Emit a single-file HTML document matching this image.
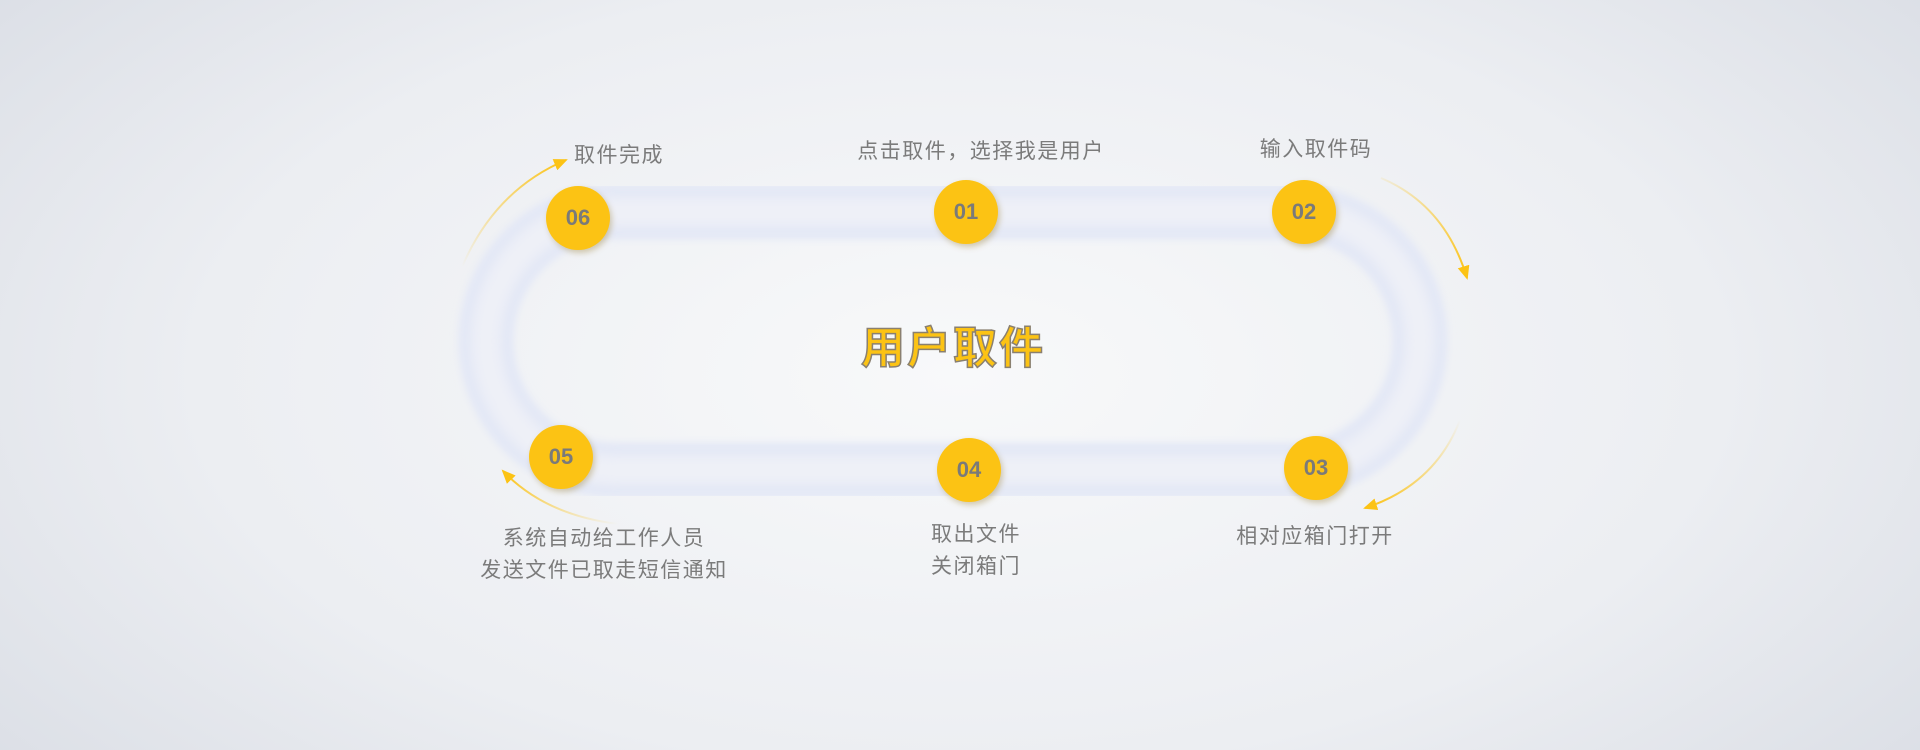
<!DOCTYPE html>
<html><head><meta charset="utf-8"><style>
html,body{margin:0;padding:0}
body{width:1920px;height:750px;overflow:hidden;position:relative;
background:radial-gradient(ellipse 72% 95% at 50% 50%,#f8f9fa 0%,#eceef2 55%,#d6dae2 100%);
font-family:"Liberation Sans","Noto Sans CJK SC",sans-serif;}
.c{position:absolute;width:64px;height:64px;border-radius:50%;background:#fcc314;box-shadow:2px 3px 6px rgba(150,120,40,.35);
color:#7a7a7a;font-weight:bold;font-size:22px;line-height:64px;text-align:center;margin:-32px 0 0 -32px}
.t{position:absolute;color:#7b7b7b;font-size:21px;letter-spacing:1.5px;transform:translate(-50%,-50%);text-align:center;line-height:32px;white-space:nowrap}
.title{position:absolute;left:953px;top:344px;transform:translate(-50%,-50%);font-size:44px;font-weight:bold;color:#fcc314;
-webkit-text-stroke:1.5px #8a8070;letter-spacing:2px;white-space:nowrap}
</style></head><body>
<svg width="1920" height="750" style="position:absolute;left:0;top:0">
<defs>
<filter id="b" x="-10%" y="-10%" width="120%" height="120%"><feGaussianBlur stdDeviation="4"/></filter>
<filter id="b2" x="-10%" y="-10%" width="120%" height="120%"><feGaussianBlur stdDeviation="6"/></filter>
<marker id="ah" markerWidth="8" markerHeight="8" refX="6" refY="4" orient="auto"><path d="M0,1 L7,4 L0,7z" fill="#fcc314"/></marker>
<linearGradient id="g1" x1="0" y1="1" x2="1" y2="0"><stop offset="0" stop-color="#fcc314" stop-opacity="0"/><stop offset="1" stop-color="#fcc314"/></linearGradient>
<linearGradient id="g2" x1="1" y1="0" x2="0" y2="1"><stop offset="0" stop-color="#fcc314" stop-opacity="0"/><stop offset="1" stop-color="#fcc314"/></linearGradient>
<linearGradient id="g3" x1="0" y1="0" x2="1" y2="1"><stop offset="0" stop-color="#fcc314" stop-opacity="0.1"/><stop offset="1" stop-color="#fcc314"/></linearGradient>
<linearGradient id="g4" x1="1" y1="1" x2="0" y2="0"><stop offset="0" stop-color="#fcc314" stop-opacity="0"/><stop offset="1" stop-color="#fcc314"/></linearGradient>
</defs>
<path d="M615,212 H1291 A129,129 0 0 1 1291,470 H615 A129,129 0 0 1 615,212 Z" fill="none" stroke="#e2e7f6" stroke-width="54" filter="url(#b)"/>
<path d="M615,212 H1291 A129,129 0 0 1 1291,470 H615 A129,129 0 0 1 615,212 Z" fill="none" stroke="#eef0f7" stroke-width="30" filter="url(#b2)"/>
<path d="M462,267 Q495,190 566,160" fill="none" stroke="url(#g1)" stroke-width="2" marker-end="url(#ah)"/>
<path d="M1381,178 Q1445,205 1467,278" fill="none" stroke="url(#g3)" stroke-width="2" marker-end="url(#ah)"/>
<path d="M1460,420 Q1435,485 1365,508" fill="none" stroke="url(#g2)" stroke-width="2" marker-end="url(#ah)"/>
<path d="M618,524 Q545,515 503,471" fill="none" stroke="url(#g4)" stroke-width="2" marker-end="url(#ah)"/>
</svg>
<div class="c" style="left:578px;top:218px">06</div>
<div class="c" style="left:966px;top:212px">01</div>
<div class="c" style="left:1304px;top:212px">02</div>
<div class="c" style="left:1316px;top:468px">03</div>
<div class="c" style="left:969px;top:470px">04</div>
<div class="c" style="left:561px;top:457px">05</div>
<div class="t" style="left:619px;top:156px">取件完成</div>
<div class="t" style="left:981px;top:152px">点击取件，选择我是用户</div>
<div class="t" style="left:1316px;top:150px">输入取件码</div>
<div class="t" style="left:1315px;top:537px">相对应箱门打开</div>
<div class="t" style="left:976px;top:551px">取出文件<br>关闭箱门</div>
<div class="t" style="left:604px;top:555px">系统自动给工作人员<br>发送文件已取走短信通知</div>
<div class="title">用户取件</div>
</body></html>
